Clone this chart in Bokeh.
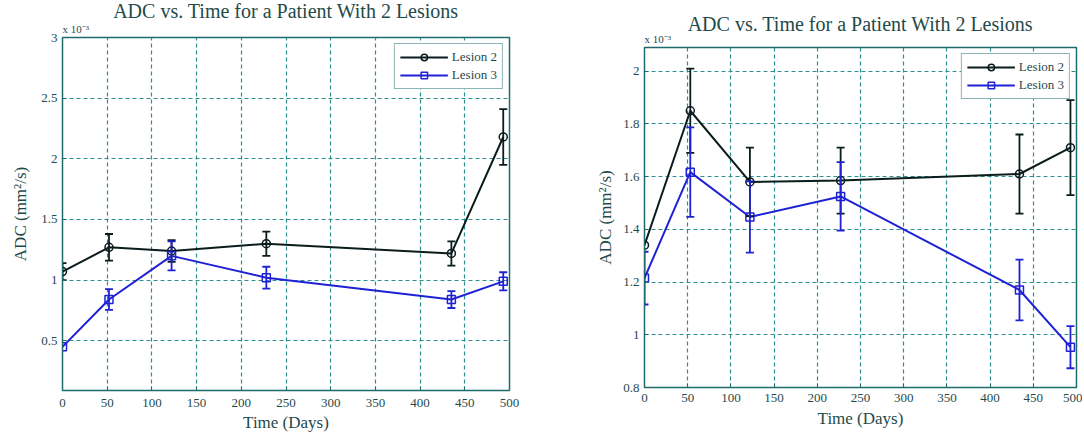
from bokeh.plotting import figure
from bokeh.layouts import row, column
from bokeh.models import (ColumnDataSource, Whisker, TeeHead, Legend, LegendItem, Title,
                          Range1d, FixedTicker, CustomJSTickFormatter)
from bokeh.embed import file_html
from bokeh.resources import INLINE

# ---------------- data (ADC in units of 10^-3 mm^2/s) ----------------
title_text = "ADC vs. Time for a Patient With 2 Lesions"
x_label = "Time (Days)"
y_label = "ADC (mm\u00b2/s)"
scale_label = "x 10\u207b\u00b3"
series_names = ["Lesion 2", "Lesion 3"]
x_ticks = [0, 50, 100, 150, 200, 250, 300, 350, 400, 450, 500]

left_days = [0, 52, 122, 228, 435, 493]
left_lesion2 = [1.07, 1.27, 1.24, 1.30, 1.22, 2.18]
left_lesion2_err = [0.07, 0.11, 0.09, 0.10, 0.10, 0.23]
left_lesion3 = [0.45, 0.84, 1.20, 1.02, 0.84, 0.99]
left_lesion3_err = [0.0, 0.085, 0.12, 0.09, 0.07, 0.075]
left_y_ticks = [0.5, 1.0, 1.5, 2.0, 2.5, 3.0]
left_y_range = (0.09, 3.0)

right_days = [0, 53, 122, 227, 434, 493]
right_lesion2 = [1.34, 1.85, 1.58, 1.585, 1.61, 1.71]
right_lesion2_err = [0.0, 0.16, 0.13, 0.125, 0.15, 0.18]
right_lesion3 = [1.215, 1.617, 1.447, 1.525, 1.17, 0.953]
right_lesion3_err = [0.1, 0.17, 0.135, 0.13, 0.115, 0.08]
right_y_ticks = [0.8, 1.0, 1.2, 1.4, 1.6, 1.8, 2.0]
right_y_range = (0.8, 2.09)

# ---------------- style ----------------
FONT = "Liberation Serif"
TXT = "#1f4a4a"
AXC = "#1d6b6b"
GRID = "#2a8f8f"
COLORS = ["#0b1c1c", "#1f22d4"]
MARKERS = ["circle", "square"]


def make_panel(days, s2, e2, s3, e3, y_ticks, y_range, width, height,
               b_left, b_right, b_top, b_bottom, ylab_standoff,
               xtick_standoff, xlab_standoff, scale_standoff, title_standoff):
    p = figure(width=width, height=height, output_backend="svg", toolbar_location=None,
               x_range=Range1d(0, 500), y_range=Range1d(*y_range),
               min_border_left=b_left, min_border_right=b_right,
               min_border_top=b_top, min_border_bottom=b_bottom)
    p.background_fill_color = "white"
    p.border_fill_color = "white"
    p.outline_line_color = AXC
    p.outline_line_width = 1.5

    # scale factor label (closest to frame) and main title above it
    p.add_layout(Title(text=scale_label, align="left", text_font=FONT,
                       text_font_style="normal", text_font_size="11px",
                       text_color=TXT, standoff=scale_standoff), "above")
    p.title.text = title_text
    p.title.text_font = FONT
    p.title.text_font_style = "normal"
    p.title.text_font_size = "20px"
    p.title.text_color = TXT
    p.title.align = "center"
    p.title.standoff = title_standoff

    p.xaxis.ticker = FixedTicker(ticks=x_ticks)
    p.yaxis.ticker = FixedTicker(ticks=y_ticks)
    fmt = "return String(Math.round(tick*100)/100);"
    p.xaxis.formatter = CustomJSTickFormatter(code=fmt)
    p.yaxis.formatter = CustomJSTickFormatter(code=fmt)
    for ax in (p.xaxis[0], p.yaxis[0]):
        ax.axis_line_color = AXC
        ax.major_tick_line_color = AXC
        ax.major_tick_in = 4
        ax.major_tick_out = 0
        ax.minor_tick_line_color = None
        ax.major_label_text_font = FONT
        ax.major_label_text_font_size = "13px"
        ax.major_label_text_color = TXT
        ax.axis_label_text_font = FONT
        ax.axis_label_text_font_style = "normal"
        ax.axis_label_text_font_size = "17px"
        ax.axis_label_text_color = TXT
    p.xaxis.major_label_standoff = xtick_standoff
    p.yaxis.major_label_standoff = 5
    p.xaxis.axis_label = x_label
    p.yaxis.axis_label = y_label
    p.xaxis.axis_label_standoff = xlab_standoff
    p.yaxis.axis_label_standoff = ylab_standoff

    for g in (p.xgrid[0], p.ygrid[0]):
        g.grid_line_color = GRID
        g.grid_line_dash = "4 3"
        g.grid_line_width = 1.2

    items = []
    for name, ys, es, col, mk in zip(series_names, [s2, s3], [e2, e3], COLORS, MARKERS):
        src = ColumnDataSource(dict(x=days, y=ys))
        wx = [d for d, e in zip(days, es) if e > 0]
        wu = [y + e for y, e in zip(ys, es) if e > 0]
        wl = [y - e for y, e in zip(ys, es) if e > 0]
        wsrc = ColumnDataSource(dict(x=wx, upper=wu, lower=wl))
        wh = Whisker(base="x", upper="upper", lower="lower", source=wsrc,
                     line_color=col, line_width=1.8, level="glyph",
                     upper_head=TeeHead(size=8, line_color=col, line_width=1.8),
                     lower_head=TeeHead(size=8, line_color=col, line_width=1.8))
        p.add_layout(wh)
        ln = p.line("x", "y", source=src, line_color=col, line_width=2)
        sc = p.scatter("x", "y", source=src, marker=mk, size=8, line_color=col,
                       line_width=1.5, fill_alpha=0)
        items.append(LegendItem(label=name, renderers=[ln, sc]))

    leg = Legend(items=items, location="top_right")
    leg.margin = 6
    leg.padding = 5
    leg.spacing = 2
    leg.glyph_width = 48
    leg.glyph_height = 16
    leg.label_text_font = FONT
    leg.label_text_font_size = "13px"
    leg.label_text_color = TXT
    leg.label_standoff = 4
    leg.border_line_color = AXC
    leg.border_line_width = 1.2
    leg.background_fill_color = "white"
    leg.background_fill_alpha = 1
    p.add_layout(leg)
    return p


p1 = make_panel(left_days, left_lesion2, left_lesion2_err, left_lesion3, left_lesion3_err,
                left_y_ticks, left_y_range, 568, 436, 62, 59, 37, 46, 8, 8, 3, 6, -9)
p2 = make_panel(right_days, right_lesion2, right_lesion2_err, right_lesion3, right_lesion3_err,
                right_y_ticks, right_y_range, 514, 436, 76, 6, 47, 49, 5, 6, 4, 6, -15)

layout = row(column(p1), column(p2))
open("out.html", "w").write(file_html(layout, INLINE))
